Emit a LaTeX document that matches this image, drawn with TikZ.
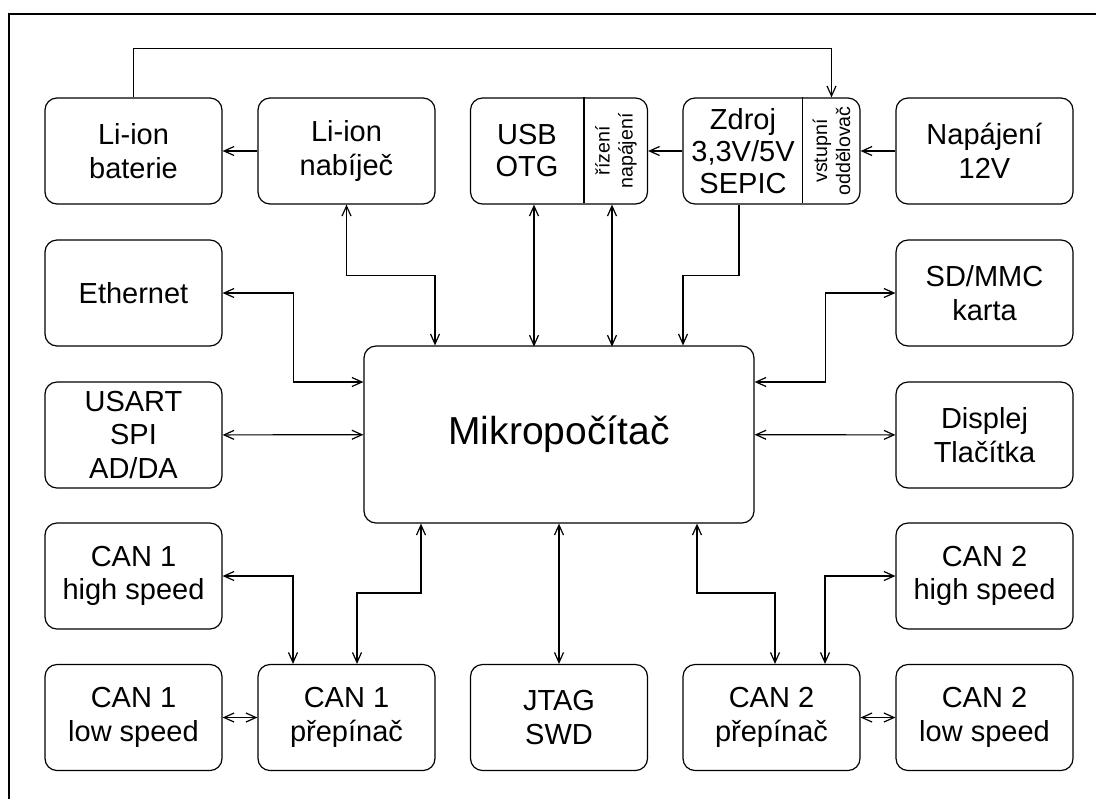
\documentclass[tikz,border=0pt]{standalone}
\usepackage{fontspec}
\setmainfont{Liberation Sans}
\usetikzlibrary{calc,arrows.meta,positioning}

\tikzset{
  blok/.style={draw, rounded corners=6pt, minimum width=88.5pt, minimum height=53pt,
    align=center, inner sep=0pt, font=\fontsize{14.5}{16.8}\selectfont},
  popis/.style={align=center, inner sep=0pt, font=\fontsize{14.5}{16}\selectfont},
  bok/.style={align=center, inner sep=0pt, rotate=90, font=\fontsize{9.8}{11.5}\selectfont}
}

\begin{document}
\begin{tikzpicture}[x=0.5pt, y=-0.5pt, line width=0.6pt,
    >={Straight Barb[length=5pt,width=4.5pt]}]
    \useasboundingbox (0,0) rectangle (1096,799);
    \draw (9,799) -- (9,14) -- (1096,14);

    % horni rada
    \node[blok] (bat) at (133.5,151) {Li-ion\\baterie};
    \node[blok] (nab) at (346.5,151) {Li-ion\\nabíječ};
    \node[blok] (usb) at (559,151) {};
    \node[popis] (usbtxt) at (527,151) {USB\\OTG};
    \node[bok] (riz) at (616,151) {řízení\\napájení};
    \draw (usb.north west) ++(114,0) -- ++(0,106);
    \node[blok] (zdroj) at (771.5,151) {};
    \node[popis] (zdrojtxt) at (743,151) {Zdroj\\3,3V/5V\\SEPIC};
    \node[bok] (vst) at (831.5,151) {vstupní\\oddělovač};
    \draw (zdroj.north west) ++(120,0) -- ++(0,106);
    \node[blok] (nap) at (984.5,151) {Napájení\\12V};

    % stred
    \node[blok] (eth) at (133.5,293) {Ethernet};
    \node[blok] (usart) at (133.5,435) {USART\\SPI\\AD/DA};
    \node[blok] (sd) at (984.5,293) {SD/MMC\\karta};
    \node[blok] (disp) at (984.5,435) {Displej\\Tlačítka};
    \node[blok, minimum width=195pt, minimum height=88.5pt,
      font=\fontsize{19.5}{23}\selectfont] (mikro) at (559,434.5) {Mikropočítač};

    % dolni rady
    \node[blok] (can1h) at (133.5,576) {CAN 1\\high speed};
    \node[blok] (can2h) at (984.5,576) {CAN 2\\high speed};
    \node[blok] (can1l) at (133.5,717.5) {CAN 1\\low speed};
    \node[blok] (can1p) at (346.5,717.5) {CAN 1\\přepínač};
    \node[blok] (jtag) at (559,717.5) {JTAG\\SWD};
    \node[blok] (can2p) at (771.5,717.5) {CAN 2\\přepínač};
    \node[blok] (can2l) at (984.5,717.5) {CAN 2\\low speed};

    % napajeni
    \draw[->] (bat.north) -- ++(0,-49) -| ($(zdroj.north)+(60,0)$);
    \draw[->] (nab) -- (bat);
    \draw[->] (zdroj) -- (usb);
    \draw[->] (nap) -- (zdroj);
    \draw[<->] (nab.south) -- ++(0,71) -| ($(mikro.north)+(-124,0)$);
    \draw[<->] ($(usb.south)+(-25,0)$) -- ($(usb.south)+(-25,142)$);
    \draw[<->] ($(usb.south)+(53,0)$) -- ($(usb.south)+(53,142)$);
    \draw[->] ($(zdroj.south)+(-32.5,0)$) -- ++(0,71) -| ($(mikro.north)+(124,0)$);

    % periferie
    \draw[<->] (eth.east) -- ++(71,0) |- ($(mikro.west)+(0,-52.5)$);
    \draw[<->] (usart) -- (mikro);
    \draw[<->] ($(mikro.east)+(0,-52.5)$) -- ++(71,0) |- (sd.west);
    \draw[<->] (mikro) -- (disp);
    \draw[<->] (mikro) -- (jtag);

    % CAN
    \draw[<->] (can1h.east) -| ($(can1p.north)+(-53.5,0)$);
    \draw[<->] ($(can1p.north)+(10.5,0)$) -- ++(0,-71) -| ($(mikro.south)+(-138,0)$);
    \draw[<->] (can1l) -- (can1p);
    \draw[<->] (can2h.west) -| ($(can2p.north)+(53.5,0)$);
    \draw[<->] ($(can2p.north)+(3.5,0)$) -- ++(0,-71) -| ($(mikro.south)+(138,0)$);
    \draw[<->] (can2p) -- (can2l);
\end{tikzpicture}
\end{document}
